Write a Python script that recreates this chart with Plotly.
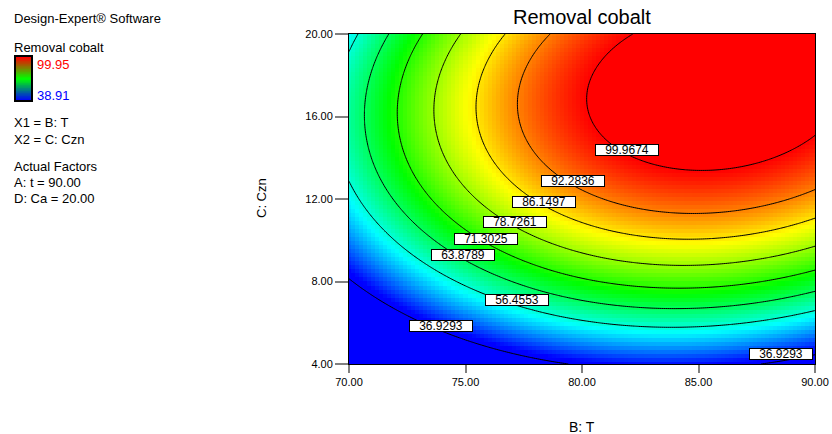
import numpy as np
import plotly.graph_objects as go

# Fitted quadratic model for Removal cobalt (coded factors)
#   X1 = (T - 80) / 10, X2 = (Czn - 12) / 8, with A: t = 90.00 and D: Ca = 20.00 held
model_terms = ["Intercept", "B", "C", "BC", "B^2", "C^2"]
model_coefs = [90.78, 18.14, 29.02, 5.00, -18.50, -24.00]

t_range = [70.0, 90.0]
czn_range = [4.0, 20.0]
t_center, t_half = 80.0, 10.0
czn_center, czn_half = 12.0, 8.0

response_min = 38.91
response_max = 99.95

contour_levels = [36.9293, 56.4553, 63.8789, 71.3025, 78.7261, 86.1497, 92.2836, 99.9674]

# where each contour label sits (T, Czn)
label_levels = [99.9674, 92.2836, 86.1497, 78.7261, 71.3025, 63.8789, 56.4553, 36.9293, 36.9293]
label_t = [81.94, 79.61, 78.39, 77.11, 75.89, 74.91, 77.20, 73.95, 88.53]
label_czn = [14.39, 12.87, 11.87, 10.89, 10.08, 9.28, 7.08, 5.85, 4.47]

x_ticks = [70, 75, 80, 85, 90]
y_ticks = [4, 8, 12, 16, 20]

info_lines = ["X1 = B: T", "X2 = C: Czn", "Actual Factors", "A: t = 90.00", "D: Ca = 20.00"]


def removal(t, c):
    x1 = (t - t_center) / t_half
    x2 = (c - czn_center) / czn_half
    b0, b1, b2, b12, b11, b22 = model_coefs
    return b0 + b1 * x1 + b2 * x2 + b12 * x1 * x2 + b11 * x1 ** 2 + b22 * x2 ** 2


FONT = "Arial, Liberation Sans, sans-serif"
W, H = 832, 434
PX_L, PX_R, PX_T, PX_B = 349, 815, 34, 364


def px_x(px):
    return px / W


def px_y(py):
    return 1 - py / H


rainbow = [[0.0, "rgb(0,0,255)"], [0.25, "rgb(0,255,255)"], [0.5, "rgb(0,255,0)"],
           [0.75, "rgb(255,255,0)"], [1.0, "rgb(255,0,0)"]]
legend_scale = [[0.0, "rgb(0,0,255)"], [0.5, "rgb(0,255,0)"], [1.0, "rgb(255,0,0)"]]

fig = go.Figure()

# coloured response surface (cell-rendered)
tc = np.linspace(t_range[0], t_range[1], 117)
cc = np.linspace(czn_range[0], czn_range[1], 83)
TC, CC = np.meshgrid(tc, cc)
fig.add_trace(go.Heatmap(
    x=tc, y=cc, z=removal(TC, CC), colorscale=rainbow,
    zmin=response_min, zmax=response_max, zsmooth=False,
    showscale=False, hoverinfo="skip"))

# contour lines, one trace per level
tf = np.linspace(t_range[0], t_range[1], 241)
cf = np.linspace(czn_range[0], czn_range[1], 193)
TF, CF = np.meshgrid(tf, cf)
ZF = removal(TF, CF)
for lev in contour_levels:
    fig.add_trace(go.Contour(
        x=tf, y=cf, z=ZF, autocontour=False,
        contours=dict(start=lev, end=lev, size=1, coloring="lines", showlabels=False),
        colorscale=[[0, "black"], [1, "black"]], line=dict(width=1, smoothing=1),
        showscale=False, hoverinfo="skip"))

# small legend bar for the response range
ramp = np.linspace(response_min, response_max, 60)
fig.add_trace(go.Heatmap(
    x=[0], y=ramp, z=ramp.reshape(-1, 1), colorscale=legend_scale,
    zmin=response_min, zmax=response_max, zsmooth="best",
    showscale=False, hoverinfo="skip", xaxis="x2", yaxis="y2"))

annotations = []

# contour value labels
for lev, t, c in zip(label_levels, label_t, label_czn):
    annotations.append(dict(
        x=t, y=c, xref="x", yref="y", text=f"{lev:.4f}", showarrow=False,
        font=dict(family=FONT, size=12, color="black"),
        bgcolor="white", bordercolor="black", borderwidth=1, borderpad=0,
        width=62, height=10, xanchor="center", yanchor="middle"))

# title and axis titles
annotations.append(dict(x=px_x(582), y=px_y(17), xref="paper", yref="paper",
                        text="Removal cobalt", showarrow=False,
                        font=dict(family=FONT, size=20, color="black"),
                        xanchor="center", yanchor="middle"))
annotations.append(dict(x=px_x(582), y=px_y(427), xref="paper", yref="paper",
                        text="B: T", showarrow=False,
                        font=dict(family=FONT, size=14, color="black"),
                        xanchor="center", yanchor="middle"))
annotations.append(dict(x=px_x(261), y=px_y(198), xref="paper", yref="paper",
                        text="C: Czn", showarrow=False, textangle=-90,
                        font=dict(family=FONT, size=13, color="black"),
                        xanchor="center", yanchor="middle"))

# left information panel
panel = [("Design-Expert® Software", 18, "black", 12),
         ("Removal cobalt", 48, "black", 12),
         (f"{response_max:.2f}", 65, "red", 35),
         (f"{response_min:.2f}", 95, "blue", 35)]
info_y = [123, 139, 166, 182, 198]
for txt, yy in zip(info_lines, info_y):
    panel.append((txt, yy, "black", 12))
for txt, yy, col, xx in panel:
    annotations.append(dict(x=px_x(xx), y=px_y(yy), xref="paper", yref="paper",
                            text=txt, showarrow=False,
                            font=dict(family=FONT, size=13, color=col),
                            xanchor="left", yanchor="middle"))

axis_common = dict(showgrid=False, zeroline=False, showline=True, linecolor="black",
                   linewidth=1, mirror=True, ticks="outside", tickcolor="#808080",
                   tickwidth=1.5, tickfont=dict(family=FONT, size=11, color="black"),
                   automargin=False)

fig.update_layout(
    width=W, height=H,
    margin=dict(l=0, r=0, t=0, b=0),
    paper_bgcolor="white", plot_bgcolor="white",
    showlegend=False,
    xaxis=dict(domain=[px_x(PX_L), px_x(PX_R)], range=t_range, tickvals=x_ticks,
               ticktext=[f"{v:.2f}" for v in x_ticks], ticklen=8, anchor="y",
               **axis_common),
    yaxis=dict(domain=[px_y(PX_B), px_y(PX_T)], range=czn_range, tickvals=y_ticks,
               ticktext=[f"{v:.2f}" for v in y_ticks], ticklen=13, anchor="x",
               **axis_common),
    xaxis2=dict(domain=[px_x(16), px_x(31)], range=[-0.5, 0.5], anchor="y2",
                showticklabels=False, ticks="", showgrid=False, zeroline=False,
                showline=True, linecolor="black", linewidth=2, mirror=True),
    yaxis2=dict(domain=[px_y(100), px_y(57)], range=[response_min, response_max],
                anchor="x2", showticklabels=False, ticks="", showgrid=False,
                zeroline=False, showline=True, linecolor="black", linewidth=2,
                mirror=True),
    annotations=annotations,
)

fig.write_html("out.html")
